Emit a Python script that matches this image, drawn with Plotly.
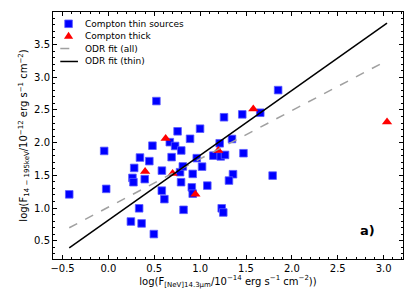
import plotly.graph_objects as go

# Compton thin sources
thin_x = [0.523, -0.046, -0.427, -0.024, 0.754, 0.999, 0.480, 0.669, 0.727, 0.794,
          0.890, 0.344, 0.446, 0.689, 0.281, 0.262, 0.273, 0.396, 0.583, 0.781,
          0.811, 0.963, 0.919, 1.021, 0.792, 0.582, 0.610, 0.909, 0.919, 1.078,
          0.335, 0.819, 0.245, 0.362, 0.495, 1.213, 1.144, 1.224, 1.271, 1.235,
          1.252, 1.850, 1.260, 1.459, 1.655, 1.347, 1.472, 1.358, 1.314, 1.790]
thin_y = [2.635, 1.873, 1.209, 1.293, 2.173, 2.213, 1.953, 2.007, 1.949, 1.880,
          2.059, 1.772, 1.717, 1.778, 1.613, 1.461, 1.395, 1.442, 1.572, 1.548,
          1.636, 1.763, 1.522, 1.633, 1.395, 1.266, 1.136, 1.316, 1.220, 1.343,
          0.996, 0.973, 0.794, 0.765, 0.602, 1.990, 1.801, 1.789, 1.812, 0.996,
          0.932, 2.803, 2.388, 2.432, 2.457, 2.056, 1.838, 1.517, 1.420, 1.496]

# Compton thick sources
thick_x = [0.624, 0.400, 0.700, 0.948, 1.198, 1.579, 3.037]
thick_y = [2.063, 1.557, 1.529, 1.209, 1.880, 2.516, 2.315]

# ODR fit parameters (slope, intercept)
fit_all = (0.738, 1.014)
fit_thin = (0.992, 0.814)

x_ticks = [-0.5, 0.0, 0.5, 1.0, 1.5, 2.0, 2.5, 3.0]
y_ticks = [0.5, 1.0, 1.5, 2.0, 2.5, 3.0, 3.5]

legend_labels = ["Compton thin sources", "Compton thick", "ODR fit (all)", "ODR fit (thin)"]

all_x = thin_x + thick_x
x_line = [min(all_x), max(all_x)]

FONT = "DejaVu Sans"
BLUE = "#0000ff"
RED = "#ff0000"
GRAY = "#a0a0a0"

# The page body adds an 8px offset, so the figure is sized to fit the window.
W, H = 407, 300
ML, MR, MT, MB = 44.7, 11.7, 3.7, 48.7
PW, PH = W - ML - MR, H - MT - MB


def paper_x(px):
    return (px - 8 - ML) / PW


def paper_y(py):
    return (H - MB - (py - 8)) / PH


fig = go.Figure()
fig.add_trace(go.Scatter(
    x=thin_x, y=thin_y, mode="markers", name=legend_labels[0],
    marker=dict(symbol="square", size=7.6, color=BLUE,
                line=dict(width=0.8, color="#5a5aff"))))
fig.add_trace(go.Scatter(
    x=thick_x, y=thick_y, mode="markers", name=legend_labels[1],
    marker=dict(symbol="triangle-up", size=9, color=RED, line=dict(width=0))))
fig.add_trace(go.Scatter(
    x=x_line, y=[fit_all[0] * v + fit_all[1] for v in x_line], mode="lines",
    name=legend_labels[2], line=dict(color=GRAY, width=1.5, dash="dash")))
fig.add_trace(go.Scatter(
    x=x_line, y=[fit_thin[0] * v + fit_thin[1] for v in x_line], mode="lines",
    name=legend_labels[3], line=dict(color="black", width=1.5)))

axis_common = dict(
    showline=True, linecolor="black", linewidth=1, mirror="allticks",
    ticks="inside", ticklen=4, tickwidth=1, tickcolor="black",
    showgrid=False, zeroline=False,
    tickfont=dict(family=FONT, size=10, color="black"),
    minor=dict(dtick=0.1, ticks="inside", ticklen=2, tickwidth=0.8, tickcolor="black"),
)

fig.update_xaxes(
    range=[-0.604, 3.211], tickvals=x_ticks,
    ticktext=[f"{v:.1f}".replace("-", "\u2212") for v in x_ticks],
    title=dict(text="log(F<sub>[NeV]14.3μm</sub>/10<sup>−14</sup> erg s<sup>−1</sup> cm<sup>−2</sup>))",
               font=dict(family=FONT, size=10, color="black"), standoff=4),
    **axis_common)
fig.update_yaxes(
    range=[0.221, 3.997], tickvals=y_ticks,
    ticktext=[f"{v:.1f}" for v in y_ticks],
    title=dict(text="log(F<sub>14 − 195keV</sub>/10<sup>−12</sup> erg s<sup>−1</sup> cm<sup>−2</sup>)",
               font=dict(family=FONT, size=10, color="black"), standoff=4),
    **axis_common)

fig.add_annotation(
    text="<b>a)</b>", xref="paper", yref="paper", x=0.926, y=0.078,
    showarrow=False, font=dict(family=FONT, size=13, color="black"))

# Compact legend (matplotlib-like spacing)
key_x = paper_x(68.3)
rows_y = [23.5, 35.8, 48.3, 61.3]
shapes = []
# square key
shapes.append(dict(type="rect", xref="paper", yref="paper",
                   xsizemode="pixel", ysizemode="pixel",
                   xanchor=key_x, yanchor=paper_y(rows_y[0]),
                   x0=-3.8, x1=3.8, y0=-3.8, y1=3.8,
                   fillcolor=BLUE, line=dict(color="#5a5aff", width=0.8)))
# triangle key
shapes.append(dict(type="path", xref="paper", yref="paper",
                   xsizemode="pixel", ysizemode="pixel",
                   xanchor=key_x, yanchor=paper_y(rows_y[1]),
                   path="M-4.6,-2.6 L4.6,-2.6 L0,4.3 Z",
                   fillcolor=RED, line=dict(width=0)))
# line keys
shapes.append(dict(type="line", xref="paper", yref="paper",
                   x0=paper_x(60), x1=paper_x(77.7),
                   y0=paper_y(rows_y[2]), y1=paper_y(rows_y[2]),
                   line=dict(color=GRAY, width=1.5, dash="dash")))
shapes.append(dict(type="line", xref="paper", yref="paper",
                   x0=paper_x(60), x1=paper_x(77.7),
                   y0=paper_y(rows_y[3]), y1=paper_y(rows_y[3]),
                   line=dict(color="black", width=1.5)))
for lab, ry in zip(legend_labels, rows_y):
    fig.add_annotation(text=lab, xref="paper", yref="paper",
                       x=paper_x(83.0), y=paper_y(ry), xanchor="left", yanchor="middle",
                       showarrow=False, font=dict(family=FONT, size=9, color="black"))

fig.update_layout(
    width=W, height=H,
    margin=dict(l=ML, r=MR, t=MT, b=MB, pad=0),
    paper_bgcolor="white", plot_bgcolor="white",
    font=dict(family=FONT, size=10, color="black"),
    showlegend=False,
    shapes=shapes,
)

fig.write_html("out.html")
